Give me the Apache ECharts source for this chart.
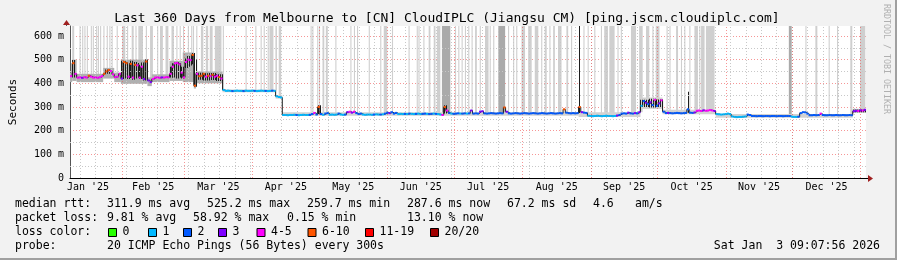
<!DOCTYPE html>
<html><head><meta charset="utf-8">
<script src="https://cdn.jsdelivr.net/npm/echarts@6/dist/echarts.min.js"></script>
<style>html,body{margin:0;padding:0;background:#f2f2f2}#c{width:897px;height:260px}</style>
</head><body><div id="c"></div>
<script>
const MONO = '"DejaVu Sans Mono", monospace';
const titleText = 'Last 360 Days from Melbourne to [CN] CloudIPLC (Jiangsu CM) [ping.jscm.cloudiplc.com]';
const monthLabels = ["Jan '25","Feb '25","Mar '25","Apr '25","May '25","Jun '25","Jul '25","Aug '25","Sep '25","Oct '25","Nov '25","Dec '25"];
const yTickStep = 100;
const yMinorTicks = [50,150,250,350,450,550];
const yMax = 642;
const lossLabels = ['0','1','2','3','4-5','6-10','11-19','20/20'];
const lossColors = ['#26ff00','#00b8ff','#0059ff','#7e00ff','#ff00ff','#ff5500','#ff0000','#a10000'];

// median rtt per day (ms), day 0 = Jan 8 2025
const median = [
430,485,440,424,425,423,426,424,432,428,
424,425,423,426,430,440,450,456,452,438,
426,428,440,420,490,485,428,482,424,478,
476,424,470,418,492,412,405,418,424,425,
423,425,424,426,425,440,470,484,486,480,
445,425,490,500,498,520,390,440,430,432,
440,428,432,430,436,428,432,426,420,372,
368,369,368,367,368,369,368,368,367,369,
368,368,369,368,367,368,369,368,368,367,
368,369,368,345,342,340,266,266,265,266,
266,267,266,265,266,267,266,266,267,270,
275,268,300,270,267,272,274,267,268,267,
268,272,268,267,268,278,280,276,280,274,
270,272,268,267,268,268,267,268,269,268,
268,269,272,276,274,278,272,275,270,271,
270,271,270,272,271,270,271,272,270,271,
272,271,270,271,272,271,270,268,266,300,
285,275,272,271,272,273,272,272,273,272,
273,285,272,273,272,280,282,273,272,273,
274,273,272,273,274,273,298,280,273,272,
273,274,273,272,273,274,273,272,273,274,
273,272,273,274,273,272,273,274,273,272,
273,274,273,290,276,274,273,274,273,274,
300,278,276,275,263,262,261,262,263,262,
261,262,263,262,262,261,262,264,266,272,
273,272,276,273,272,274,273,278,305,325,
318,312,320,308,330,305,315,328,280,274,
275,274,273,274,275,274,273,274,275,290,
276,275,277,284,285,283,286,284,285,287,
285,283,270,269,268,269,270,272,270,260,
258,257,258,258,259,260,268,266,262,262,
261,262,262,261,262,262,261,262,262,261,
262,262,261,262,262,262,259,258,258,259,
274,278,277,272,265,265,266,265,266,272,
266,265,265,266,265,265,266,265,265,266,
265,265,266,265,282,284,283,286,285,288
];
// loss colour class per day (index into lossColors)
const loss = [
4,5,4,4,4,3,4,4,5,4, 4,4,4,4,4,5,5,5,4,4, 4,4,4,3,5,5,4,5,4,5, 4,4,4,3,5,3,3,4,4,4,
4,3,4,4,4,4,4,4,4,4, 4,4,4,4,4,5,5,4,5,5, 5,4,5,4,5,4,4,5,4,1, 1,1,1,2,1,1,1,1,2,1,
1,1,1,2,1,1,1,1,2,1, 1,2,1,1,1,1,1,1,1,1, 1,1,2,1,1,1,1,1,2,2, 4,2,5,2,1,2,2,1,1,1,
1,2,1,1,2,3,4,3,4,2, 2,2,1,1,1,1,1,2,1,1, 2,1,2,2,3,2,2,2,1,1, 1,2,1,2,1,1,2,1,1,2,
2,1,2,2,1,2,1,1,4,5, 4,2,1,2,2,2,1,2,2,1, 2,3,2,2,2,3,3,2,2,2, 2,2,2,2,2,2,5,3,2,2,
2,2,2,2,2,2,2,2,2,2, 2,2,2,2,2,2,2,2,2,2, 2,2,2,5,2,2,2,2,2,2, 5,3,2,2,1,1,1,1,1,1,
1,1,1,1,1,1,1,3,2,2, 2,2,3,2,2,3,2,3,1,2, 3,2,3,2,4,2,3,4,2,2, 3,2,2,2,2,2,2,2,2,2,
2,2,3,4,4,4,3,4,4,4, 4,3,1,1,1,1,1,1,1,1, 1,1,1,1,1,1,2,2,2,2, 2,2,2,2,2,2,2,2,2,2,
2,2,2,2,2,2,1,1,1,2, 2,2,2,2,2,2,2,2,2,4, 2,2,2,2,2,2,2,2,2,2, 2,2,2,2,3,3,4,3,4,3
];
// light smoke [fromDay, toDay, low ms, high ms, shade 0 mid / 1 pale]
const smokeBands = [
[0,1,405,445,0],[1,3,410,500,0],[3,15,405,440,0],[15,20,420,465,0],[20,23,405,445,0],
[23,35,398,500,0],[35,37,388,425,0],[37,45,405,438,0],[45,51,410,495,0],[51,56,405,530,0],
[56,57,378,445,0],[57,69,400,450,0],[69,93,362,374,1],[93,96,335,350,1],[96,230,263,278,1],
[230,258,258,278,1],[258,268,292,340,1],[268,292,269,288,1],[292,354,255,270,1],[354,360,276,292,0]
];
// dark smoke [fromDay, toDay, low ms, high ms]
const darkBands = [
[1,2,425,498],[16,18,440,458],
[23,24,418,495],[24,25,420,492],[25,26,425,488],[26,27,418,485],[27,28,422,495],[28,29,415,480],
[29,30,420,490],[30,31,425,486],[31,32,418,478],[32,33,420,488],[33,34,412,475],[34,35,415,500],
[45,46,425,470],[46,47,425,485],[47,48,430,488],[48,49,420,490],[49,50,425,485],[50,51,420,470],
[52,53,465,505],[53,54,470,515],[54,55,475,510],[55,56,480,528],[56,57,385,500],
[57,60,415,445],[60,63,412,442],[63,66,414,444],[66,69,410,438],
[112,113,270,307],[169,170,272,307],
[230,230.5,275,642],[258,262,300,330],[262,265,298,335],[265,268,300,332],[279.3,279.8,276,364],[354,360,278,288]
];
// off-scale smoke columns [fromDay, toDay, shade 0 light / 1 darker]
const spikes = [
[1,1.9,0],[4.3,4.8,0],[5.5,6,0],[6.5,7,0],[7.6,8.1,0],[9.4,9.9,0],[10.3,10.8,0],[11.8,12.3,0],
[12.6,13.1,0],[13.6,14.1,0],[15.1,15.6,0],[16.6,17.1,0],[17.8,18.3,0],[18.8,19.3,0],[21.1,21.6,0],
[23.6,25,0],[25.8,26.3,0],[27.9,28.8,0],[29.6,30.1,0],[30.9,33,0],[34.3,34.8,0],[36.2,37.5,0],
[39.4,39.9,0],[40.7,42,0],[43.2,44.5,0],[45.9,47,0],[48.1,48.6,0],[49.6,50.1,0],[51.1,51.6,0],
[53.3,53.8,0],[54.8,55.3,0],[55.6,56.1,0],[57.1,57.6,0],[59.2,60.3,0],[61.4,62.5,0],[63.2,64.5,0],
[65.5,68.5,0],[69.1,69.6,0],[79.4,79.9,0],[83.8,84.3,0],[86.2,86.7,0],[87.6,88.1,0],[89.4,89.9,0],
[90.2,92,0],[92.9,93.6,0],[94.4,95.5,0],
[108.8,109.3,0],[109.6,110.1,0],[111.8,112.3,0],[112.6,113.1,0],[114.2,115,0],[115.7,116.6,0],
[120,120.5,0],[126.8,127.3,0],[128.4,128.9,0],[129.8,130.3,0],[135.1,135.6,0],[140.3,140.8,0],
[141.9,143.5,0],[145.6,146.1,0],[153.1,153.6,0],[156.8,157.3,0],[157.6,158.1,0],[159.8,160.3,0],
[162.2,163,0],[164.5,165.3,0],[165.9,167.5,0],[168.2,172,1],[174.1,174.6,0],[175.6,176.1,0],
[177.1,177.6,0],[178.6,179.1,0],[180.1,180.6,0],[181.6,182.1,0],[183.2,184,0],[185.3,185.8,0],
[187.7,189.3,0],[189.8,190.3,0],[191.4,191.9,0],[193.7,196.8,1],[198.1,198.6,0],[200.4,200.9,0],
[201.8,202.3,0],[204.2,205.8,0],[207.2,208.8,0],[210.2,211.8,0],[213.1,213.6,0],[214.7,215.6,0],
[216.8,217.3,0],[218.5,219.3,0],[220.7,222.3,0],[224.5,225.3,0],[226.6,227.1,0],[232.2,232.7,0],
[234.1,234.6,0],[237.1,237.6,0],[240.1,240.6,0],[241.6,243.3,0],[243.9,246.3,0],[247.6,248.1,0],
[249.1,249.6,0],[253.7,256,0],[257.4,259,0],[260.5,262,0],[263.4,263.9,0],[264.9,266.6,0],
[269.8,270.3,0],[271.1,271.6,0],[274.1,275,0],[276.3,276.8,0],[277.8,278.3,0],[280.1,280.6,0],
[282.4,284,0],[284.6,285.1,0],[285.4,287,0],[287.6,291.5,0],[325.1,326.4,1],[332.6,333.1,0],
[337.1,338,0],[343.1,343.6,0],[346.9,347.4,0],[352.9,353.8,0],[357.3,359.7,0]
];
const rttStats = [['311.9 ms avg',107],['525.2 ms max',207],['259.7 ms min',307],['287.6 ms now',407],['67.2 ms sd',507],['4.6',593],['am/s',635]];
const lossStats = [['9.81 % avg',107],['58.92 % max',193],['0.15 % min',287],['13.10 % now',407]];
const legendBoxX = [108,148,183,218,256.5,307.5,365,430];
const probeText = '20 ICMP Echo Pings (56 Bytes) every 300s';
const dateText = 'Sat Jan  3 09:07:56 2026';

const start = new Date(2025,0,8,9,7,56).getTime();
const toDay = d => (d.getTime() - start) / 86400000;
const monthStarts = [], monthMid = [];
for (let m = 0; m < 12; m++) {
  const a = toDay(new Date(2025,m,1)), b = toDay(new Date(2025,m+1,1));
  if (m > 0) monthStarts.push(a);
  monthMid.push((a+b)/2);
}
monthStarts.push(toDay(new Date(2026,0,1)));
const mondays = [];
for (let d = new Date(2025,0,13); toDay(d) < 360; d = new Date(d.getFullYear(), d.getMonth(), d.getDate()+7)) mondays.push(toDay(d));

const GRAY_GRID = '#c8c8c8';
const RED_GRID = 'rgba(240,80,80,0.6)';
const gridLines = mondays.map(v => ({xAxis: v, lineStyle:{color:GRAY_GRID, type:[1,2], width:1}}))
  .concat(yMinorTicks.map(v => ({yAxis: v, lineStyle:{color:GRAY_GRID, type:[1,2], width:1}})))
  .concat(monthStarts.map(v => ({xAxis: v, lineStyle:{color:RED_GRID, type:[1,2], width:1}})));

const medianData = median.map((v,i) => [i, v, loss[i]]);
const stepData = median.map((v,i) => [i, v]).concat([[360, median[359]]]);
const spikeData = spikes.map(s => [s[0], s[1], median[Math.floor(s[0])], s[2]]);

function bandRender(params, api) {
  const p0 = api.coord([api.value(0), api.value(3)]);
  const p1 = api.coord([api.value(1), api.value(2)]);
  return {type:'rect', shape:{x:p0[0], y:p0[1], width:Math.max(p1[0]-p0[0],1), height:p1[1]-p0[1]},
    style:{fill: api.value(4) ? '#d2d2d2' : '#b0b0b0'}};
}
function stripeRender(params, api) {
  const p0 = api.coord([api.value(0), api.value(3)]);
  const p1 = api.coord([api.value(1), api.value(2)]);
  const w = Math.max(p1[0]-p0[0], 1);
  const kids = [];
  for (let x = 0; x < w; x += 2) {
    kids.push({type:'rect', shape:{x:Math.round(p0[0]+x), y:p0[1], width:1, height:p1[1]-p0[1]}, style:{fill:'#1e1e1e'}});
  }
  return {type:'group', children:kids};
}

const chart = echarts.init(document.getElementById('c'), null, {renderer:'canvas'});
const txt = (t, x, y, size, extra) => Object.assign({type:'text', x:x, y:y, silent:true,
  style:Object.assign({text:t, font: size+'px '+MONO, fill:'#000', align:'left', verticalAlign:'middle', textAlign:'left', textVerticalAlign:'middle'}, extra||{})});

const graphics = [
  {type:'rect', shape:{x:0,y:258,width:897,height:2}, style:{fill:'#a0a0a0'}, silent:true},
  {type:'rect', shape:{x:895,y:0,width:2,height:260}, style:{fill:'#a0a0a0'}, silent:true},
  txt(titleText, 447, 19, 13, {align:'center', textAlign:'center'}),
  {type:'line', shape:{x1:66.5,y1:21,x2:66.5,y2:26}, style:{stroke:'#555', lineWidth:1}, silent:true},
  {type:'polygon', shape:{points:[[63,25],[70,25],[66.5,20]]}, style:{fill:'#a02020'}, silent:true},
  {type:'line', shape:{x1:866,y1:178.5,x2:870,y2:178.5}, style:{stroke:'#000', lineWidth:1}, silent:true},
  {type:'polygon', shape:{points:[[868,175],[868,182],[873,178.5]]}, style:{fill:'#a02020'}, silent:true},
  txt('RRDTOOL / TOBI OETIKER', 886, 4, 8.3, {fill:'#b0b0b0'}),
  txt('median rtt:', 15, 204, 11.5),
  txt('packet loss:', 15, 218, 11.5),
  txt('loss color:', 15, 232, 11.5),
  txt('probe:', 15, 246, 11.5),
  txt(probeText, 107, 246, 11.5),
  txt(dateText, 880, 246, 11.5, {align:'right', textAlign:'right'})
];
graphics[7].rotation = -Math.PI/2;
rttStats.forEach(s => graphics.push(txt(s[0], s[1], 204, 11.5)));
lossStats.forEach(s => graphics.push(txt(s[0], s[1], 218, 11.5)));
lossLabels.forEach((l,i) => {
  graphics.push({type:'rect', shape:{x:legendBoxX[i]+0.5, y:228.5, width:8, height:8}, style:{fill:lossColors[i], stroke:'#000', lineWidth:1}, silent:true});
  graphics.push(txt(l, legendBoxX[i]+14.5, 232, 11.5));
});

chart.setOption({
  animation:false,
  backgroundColor:'#f2f2f2',
  grid:{left:66, right:31, top:26, bottom:82, show:true, backgroundColor:'#ffffff', borderWidth:0},
  xAxis:{type:'value', min:0, max:360,
    axisLine:{show:true, lineStyle:{color:'#000', width:1}}, axisTick:{show:false},
    splitLine:{show:false},
    axisLabel:{customValues:monthMid, margin:4, fontSize:10, fontFamily:MONO, color:'#000', hideOverlap:false,
      formatter: v => { let best=0; monthMid.forEach((m,i)=>{ if (Math.abs(m-v) < Math.abs(monthMid[best]-v)) best=i; }); return monthLabels[best]; }}},
  yAxis:{type:'value', min:0, max:yMax, interval:yTickStep,
    name:'Seconds', nameLocation:'middle', nameGap:51, nameRotate:90,
    nameTextStyle:{fontSize:11, fontFamily:MONO, color:'#000'},
    axisLine:{show:true, lineStyle:{color:'#555'}}, axisTick:{show:false},
    axisLabel:{margin:6, fontSize:10, fontFamily:MONO, color:'#000', showMaxLabel:false,
      formatter: v => v === 0 ? '0' : (v + ' m')},
    splitLine:{show:true, showMaxLine:false, lineStyle:{color:RED_GRID, type:[1,2]}}},
  graphic: graphics,
  series:[
    {type:'custom', name:'spikes', z:2, clip:true, data:spikeData,
      renderItem:(params, api) => {
        const p0 = api.coord([api.value(0), yMax]);
        const p1 = api.coord([api.value(1), api.value(2)]);
        return {type:'rect', shape:{x:p0[0], y:p0[1], width:Math.max(p1[0]-p0[0],1), height:p1[1]-p0[1]},
          style:{fill: api.value(3) ? '#aaaaaa' : '#cfcfcf'}};
      }},
    {type:'custom', name:'smoke', z:3, clip:true, data:smokeBands, renderItem:bandRender},
    {type:'custom', name:'dark', z:4, clip:true, data:darkBands, renderItem:stripeRender},
    {type:'line', name:'grid', z:5, data:[[0,0]], symbol:'none', lineStyle:{opacity:0}, silent:true,
      markLine:{silent:true, symbol:['none','none'], label:{show:false}, animation:false, data:gridLines}},
    {type:'line', name:'step', z:6, data:stepData, step:'end', symbol:'none', lineStyle:{color:'#1a1a1a', width:1}},
    {type:'custom', name:'median', z:7, clip:true, data:medianData,
      renderItem:(params, api) => {
        const p0 = api.coord([api.value(0), api.value(1)]);
        const p1 = api.coord([api.value(0)+1, api.value(1)]);
        return {type:'rect', shape:{x:p0[0], y:p0[1]-1, width:p1[0]-p0[0], height:2}, style:{fill:lossColors[api.value(2)]}};
      }}
  ]
});
</script></body></html>
